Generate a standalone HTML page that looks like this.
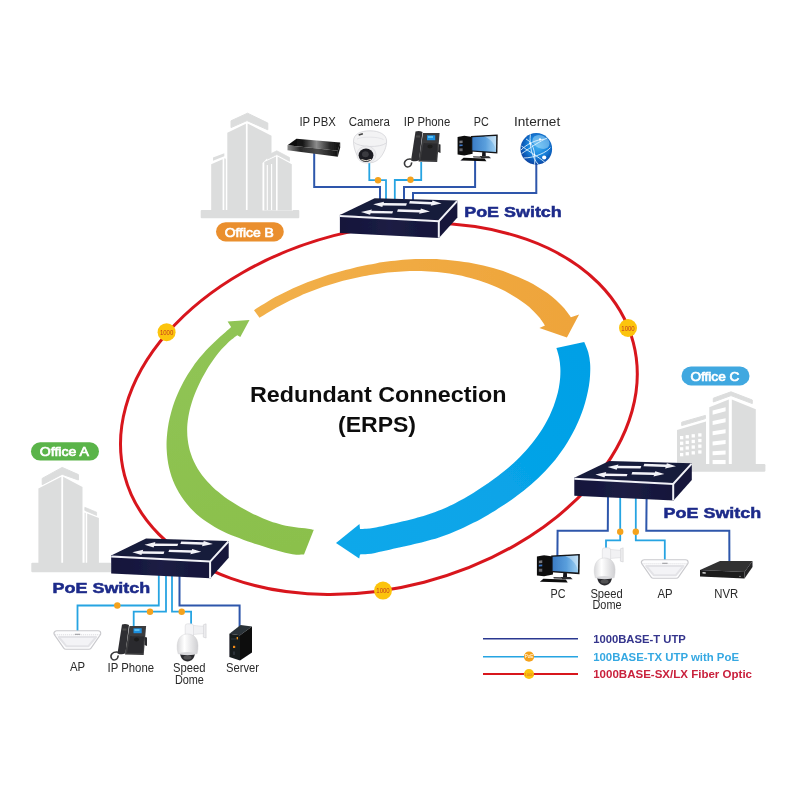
<!DOCTYPE html>
<html><head><meta charset="utf-8"><title>ERPS Ring</title>
<style>
html,body{margin:0;padding:0;background:#fff;}
body{width:800px;height:800px;overflow:hidden;}
svg{display:block;font-family:"Liberation Sans",sans-serif;}
</style></head><body>
<svg width="800" height="800" viewBox="0 0 800 800">
<defs>
<linearGradient id="gscreen" x1="0" y1="0" x2="1" y2="0"><stop offset="0" stop-color="#3b7cc6"/><stop offset="0.55" stop-color="#5a9fdc"/><stop offset="1" stop-color="#9fd0f2"/></linearGradient>
<radialGradient id="gglobe" cx="0.55" cy="0.42" r="0.62"><stop offset="0" stop-color="#45b0f0"/><stop offset="0.5" stop-color="#1583dc"/><stop offset="1" stop-color="#0a3c9c"/></radialGradient>
<linearGradient id="gdome" x1="0" y1="0" x2="1" y2="0"><stop offset="0" stop-color="#d9d9db"/><stop offset="0.35" stop-color="#ffffff"/><stop offset="1" stop-color="#cfcfd2"/></linearGradient>
<linearGradient id="gpbx" x1="0" y1="0" x2="1" y2="0"><stop offset="0" stop-color="#8a8a8a"/><stop offset="0.25" stop-color="#2a2a2a"/><stop offset="0.6" stop-color="#4a4a4a"/><stop offset="1" stop-color="#111"/></linearGradient>
<linearGradient id="gpbxtop" x1="0" y1="0" x2="1" y2="0"><stop offset="0" stop-color="#050505"/><stop offset="0.3" stop-color="#1a1a1a"/><stop offset="0.55" stop-color="#8c8c8c"/><stop offset="0.8" stop-color="#2a2a2a"/><stop offset="1" stop-color="#101010"/></linearGradient>
<linearGradient id="gfront" x1="0" y1="0" x2="1" y2="0"><stop offset="0" stop-color="#12143a"/><stop offset="0.5" stop-color="#1c1d44"/><stop offset="1" stop-color="#15163a"/></linearGradient>
<linearGradient id="gor" gradientUnits="userSpaceOnUse" x1="255" y1="310" x2="575" y2="320"><stop offset="0" stop-color="#f2b04a"/><stop offset="1" stop-color="#eea43a"/></linearGradient>
<linearGradient id="gbl" gradientUnits="userSpaceOnUse" x1="580" y1="350" x2="340" y2="545"><stop offset="0" stop-color="#00a0e6"/><stop offset="1" stop-color="#10a8ea"/></linearGradient>
<linearGradient id="ggr" gradientUnits="userSpaceOnUse" x1="300" y1="545" x2="245" y2="320"><stop offset="0" stop-color="#8bc04c"/><stop offset="1" stop-color="#90c455"/></linearGradient>
<filter id="soft" x="-5%" y="-5%" width="110%" height="110%"><feGaussianBlur stdDeviation="0.62"/></filter>
</defs>
<rect width="800" height="800" fill="#fff"/>
<g filter="url(#soft)">
<g><rect x="200.7" y="210" width="98.6" height="8.3" rx="1" fill="#dcdddd"/><polygon points="213.0,157.5 224.3,153.3 224.3,156.3 213.0,160.8" fill="#dcdddd"/><polygon points="211.2,164.3 222.6,159.2 222.6,210.5 211.2,210.5" fill="#dcdddd"/><polygon points="224.3,158.3 225.8,158.8 225.8,210.5 224.3,210.5" fill="#dcdddd"/><polygon points="231.0,120.8 247.5,113.2 267.8,123.0 267.8,129.8 247.0,120.6 231.0,127.6" fill="#dcdddd" stroke="#dcdddd" stroke-width="1" stroke-linejoin="round"/><polygon points="227.3,132.8 245.9,123.8 245.9,210.5 227.3,210.5" fill="#dcdddd"/><polygon points="247.6,123.4 271.5,135.8 271.5,210.5 247.6,210.5" fill="#dcdddd"/><polygon points="262.5,163.0 276.8,149.0 293.0,163.0 293.0,210.5 262.5,210.5" fill="#fff"/><polygon points="267.5,155.3 276.8,150.8 289.5,157.5 289.5,161.2 276.8,154.6 267.5,159.2" fill="#dcdddd" stroke="#dcdddd" stroke-width="0.8" stroke-linejoin="round"/><polygon points="264.3,162.0 276.0,156.6 276.0,210.5 264.3,210.5" fill="#dcdddd"/><polygon points="277.6,156.4 291.8,164.3 291.8,210.5 277.6,210.5" fill="#dcdddd"/><g stroke="#fff" stroke-width="1.1"><line x1="267.3" y1="165" x2="267.3" y2="210"/><line x1="271.6" y1="164" x2="271.6" y2="210"/></g></g>
<g><rect x="31.3" y="562.8" width="80" height="9.4" rx="1" fill="#dcdddd"/><polygon points="42.2,478.4 62.2,467.4 78.4,474.6 78.4,480.0 62.2,474.3 42.2,484.7" fill="#dcdddd" stroke="#dcdddd" stroke-width="1" stroke-linejoin="round"/><polygon points="38.4,488.6 61.3,476.8 61.3,563.5 38.4,563.5" fill="#dcdddd"/><polygon points="63.1,476.8 82.5,487.0 82.5,563.5 63.1,563.5" fill="#dcdddd"/><polygon points="84.8,507.3 96.6,512.2 96.6,515.4 84.8,510.4" fill="#dcdddd" stroke="#dcdddd" stroke-width="0.8" stroke-linejoin="round"/><polygon points="84.6,512.6 85.7,513.0 85.7,563.5 84.6,563.5" fill="#dcdddd"/><polygon points="87.2,513.6 98.9,518.0 98.9,563.5 87.2,563.5" fill="#dcdddd"/></g>
<g><rect x="676" y="464" width="89.4" height="7.8" rx="1.2" fill="#dcdddd"/><polygon points="681.7,422.2 705.4,415.4 705.4,418.6 681.7,425.6" fill="#dcdddd" stroke="#dcdddd" stroke-width="1" stroke-linejoin="round"/><polygon points="677.0,430.0 706.0,421.6 706.0,464.5 677.0,464.5" fill="#dcdddd"/><polygon points="713.3,398.2 731.0,391.8 752.3,400.0 752.3,403.6 731.0,395.6 713.3,402.0" fill="#dcdddd" stroke="#dcdddd" stroke-width="1" stroke-linejoin="round"/><polygon points="709.3,407.2 728.8,399.6 728.8,464.5 709.3,464.5" fill="#dcdddd"/><polygon points="731.8,399.4 755.8,409.2 755.8,464.5 731.8,464.5" fill="#dcdddd"/><g fill="#fff"><polygon points="712.6,410.6 725.6,407.2 725.6,411.3 712.6,414.7" fill="#fff"/><polygon points="712.6,420.9 725.6,418.2 725.6,422.3 712.6,425.0" fill="#fff"/><polygon points="712.6,431.2 725.6,429.2 725.6,433.3 712.6,435.3" fill="#fff"/><polygon points="712.6,441.4 725.6,440.0 725.6,444.1 712.6,445.5" fill="#fff"/><polygon points="712.6,451.2 725.6,450.4 725.6,454.5 712.6,455.3" fill="#fff"/><polygon points="712.6,460.0 725.6,460.0 725.6,464.1 712.6,464.1" fill="#fff"/><rect x="680.0" y="436.0" width="3.3" height="3.3"/><rect x="685.6" y="435.1" width="3.3" height="3.3"/><rect x="691.6" y="434.2" width="3.3" height="3.3"/><rect x="698.2" y="433.3" width="3.3" height="3.3"/><rect x="680.0" y="441.6" width="3.3" height="3.3"/><rect x="685.6" y="440.7" width="3.3" height="3.3"/><rect x="691.6" y="439.8" width="3.3" height="3.3"/><rect x="698.2" y="438.9" width="3.3" height="3.3"/><rect x="680.0" y="447.2" width="3.3" height="3.3"/><rect x="685.6" y="446.3" width="3.3" height="3.3"/><rect x="691.6" y="445.4" width="3.3" height="3.3"/><rect x="698.2" y="444.5" width="3.3" height="3.3"/><rect x="680.0" y="453.0" width="3.3" height="3.3"/><rect x="685.6" y="452.1" width="3.3" height="3.3"/><rect x="691.6" y="451.2" width="3.3" height="3.3"/><rect x="698.2" y="450.3" width="3.3" height="3.3"/></g></g>
<ellipse cx="378.9" cy="408.9" rx="262.9" ry="179.1" transform="rotate(-14.62 378.9 408.9)" fill="none" stroke="#d8141f" stroke-width="3"/>
<path d="M254.0 310.3 C255.2 309.5 258.7 307.1 261.1 305.6 C263.5 304.1 265.9 302.6 268.2 301.2 C270.6 299.8 273.0 298.4 275.3 297.1 C277.7 295.8 280.1 294.6 282.5 293.4 C284.8 292.2 287.2 291.0 289.6 289.9 C291.9 288.8 294.3 287.7 296.7 286.7 C299.1 285.7 301.4 284.7 303.8 283.7 C306.1 282.8 308.5 281.9 310.9 281.0 C313.2 280.1 315.6 279.2 318.0 278.4 C320.3 277.6 322.7 276.8 325.0 276.0 C327.4 275.3 329.8 274.5 332.1 273.8 C334.5 273.1 336.9 272.4 339.2 271.7 C341.6 271.1 344.0 270.4 346.4 269.8 C348.8 269.2 351.2 268.6 353.6 268.0 C356.0 267.4 358.4 266.8 360.9 266.3 C363.3 265.8 365.8 265.3 368.2 264.8 C370.7 264.3 373.2 263.8 375.7 263.4 C378.2 262.9 380.8 262.5 383.3 262.1 C385.9 261.8 388.5 261.4 391.1 261.1 C393.7 260.8 396.3 260.5 399.0 260.2 C401.7 260.0 404.3 259.7 407.1 259.6 C409.8 259.4 412.5 259.2 415.3 259.1 C418.1 259.0 420.9 259.0 423.7 259.0 C426.6 258.9 429.5 259.0 432.4 259.1 C435.3 259.1 438.2 259.3 441.2 259.4 C444.2 259.6 447.2 259.9 450.2 260.2 C453.2 260.4 456.3 260.8 459.4 261.2 C462.5 261.6 465.7 262.1 468.8 262.6 C472.0 263.2 475.2 263.8 478.4 264.5 C481.7 265.2 484.9 265.9 488.2 266.8 C491.5 267.6 494.8 268.6 498.1 269.6 C501.4 270.6 504.8 271.7 508.1 272.9 C511.5 274.2 514.8 275.5 518.2 276.9 C521.5 278.3 524.9 279.9 528.2 281.6 C531.4 283.2 534.7 285.0 537.9 286.9 C541.1 288.9 544.3 290.9 547.4 293.1 C550.4 295.4 553.4 297.7 556.2 300.2 C559.0 302.7 561.7 305.4 564.2 308.2 C566.6 311.1 569.8 315.7 570.9 317.2 L579.1 314.4 L566.9 337.5 L539.4 328.1 L545.0 325.6 C544.1 324.3 541.5 320.2 539.4 317.6 C537.4 315.1 535.1 312.7 532.8 310.5 C530.5 308.2 528.0 306.1 525.4 304.1 C522.8 302.0 520.2 300.2 517.5 298.4 C514.8 296.6 512.0 294.9 509.2 293.4 C506.4 291.8 503.5 290.4 500.7 289.0 C497.8 287.6 495.0 286.4 492.1 285.2 C489.2 284.1 486.3 283.0 483.4 282.0 C480.6 281.0 477.7 280.1 474.8 279.2 C471.9 278.4 469.1 277.6 466.2 276.9 C463.4 276.3 460.6 275.6 457.8 275.1 C455.0 274.5 452.2 274.0 449.4 273.6 C446.7 273.2 443.9 272.8 441.2 272.5 C438.5 272.2 435.8 271.9 433.1 271.7 C430.4 271.5 427.8 271.4 425.2 271.3 C422.5 271.1 419.9 271.1 417.4 271.1 C414.8 271.0 412.2 271.1 409.7 271.1 C407.2 271.2 404.7 271.3 402.2 271.4 C399.8 271.5 397.3 271.7 394.9 271.9 C392.4 272.1 390.0 272.3 387.6 272.6 C385.3 272.9 382.9 273.1 380.5 273.5 C378.2 273.8 375.9 274.1 373.5 274.5 C371.2 274.9 368.9 275.3 366.6 275.7 C364.4 276.1 362.1 276.5 359.8 277.0 C357.6 277.5 355.3 277.9 353.1 278.5 C350.8 279.0 348.6 279.5 346.4 280.1 C344.1 280.6 341.9 281.2 339.7 281.8 C337.5 282.4 335.3 283.1 333.1 283.7 C330.9 284.4 328.7 285.1 326.5 285.8 C324.3 286.5 322.1 287.3 319.9 288.0 C317.7 288.8 315.5 289.6 313.3 290.4 C311.1 291.3 308.9 292.2 306.7 293.1 C304.5 294.0 302.2 294.9 300.0 295.9 C297.8 296.9 295.6 297.9 293.4 298.9 C291.2 300.0 288.9 301.0 286.7 302.2 C284.5 303.3 282.2 304.5 280.0 305.7 C277.7 306.9 275.5 308.1 273.2 309.4 C270.9 310.7 268.7 312.1 266.4 313.4 C264.1 314.8 260.6 317.0 259.5 317.7 Z" fill="url(#gor)"/>
<path d="M584.2 341.9 C584.9 343.6 587.3 348.8 588.3 352.4 C589.3 356.0 589.8 359.7 590.1 363.5 C590.4 367.2 590.3 371.0 590.1 374.8 C590.0 378.5 589.5 382.3 588.9 386.0 C588.3 389.7 587.5 393.4 586.6 397.1 C585.7 400.7 584.7 404.3 583.5 407.9 C582.3 411.4 581.0 414.9 579.7 418.3 C578.3 421.7 576.8 425.0 575.2 428.3 C573.6 431.5 571.9 434.7 570.1 437.8 C568.3 440.9 566.4 444.0 564.5 446.9 C562.5 449.8 560.5 452.7 558.4 455.4 C556.4 458.2 554.2 460.9 552.0 463.5 C549.8 466.1 547.6 468.6 545.3 471.0 C543.0 473.4 540.6 475.7 538.3 478.0 C535.9 480.2 533.5 482.4 531.1 484.5 C528.7 486.6 526.3 488.6 523.9 490.5 C521.5 492.4 519.0 494.3 516.6 496.1 C514.2 497.9 511.8 499.6 509.4 501.3 C506.9 503.0 504.5 504.6 502.1 506.1 C499.7 507.7 497.4 509.2 495.0 510.7 C492.6 512.1 490.2 513.5 487.9 514.9 C485.5 516.3 483.2 517.6 480.9 518.9 C478.5 520.2 476.2 521.4 473.9 522.6 C471.5 523.8 469.2 525.0 466.9 526.1 C464.6 527.2 462.3 528.3 460.0 529.3 C457.6 530.4 455.3 531.4 453.0 532.3 C450.7 533.3 448.3 534.2 446.0 535.0 C443.7 535.9 441.3 536.7 439.0 537.4 C436.7 538.2 434.3 538.9 432.0 539.6 C429.6 540.3 427.3 541.0 425.0 541.6 C422.6 542.2 420.3 542.8 417.9 543.3 C415.6 543.9 413.2 544.4 410.9 545.0 C408.6 545.5 406.2 546.0 403.9 546.5 C401.5 547.1 399.2 547.6 396.8 548.1 C394.4 548.6 392.1 549.2 389.7 549.7 C387.3 550.3 384.9 550.8 382.5 551.3 C380.0 551.9 377.6 552.4 375.1 552.9 C372.6 553.3 370.1 553.8 367.6 554.1 C365.1 554.3 361.3 554.4 360.0 554.5 L359.2 558.5 L336.0 543.0 L359.5 524.0 L360.0 529.0 C361.1 529.0 364.3 529.0 366.4 528.8 C368.6 528.6 370.7 528.3 372.8 527.9 C374.9 527.6 377.0 527.2 379.0 526.7 C381.1 526.3 383.1 525.9 385.1 525.4 C387.2 525.0 389.2 524.5 391.1 524.0 C393.1 523.6 395.1 523.1 397.1 522.7 C399.1 522.2 401.0 521.8 403.0 521.3 C404.9 520.9 406.9 520.4 408.9 519.9 C410.8 519.4 412.8 518.9 414.7 518.4 C416.7 517.9 418.7 517.4 420.6 516.8 C422.6 516.2 424.5 515.7 426.5 515.0 C428.4 514.4 430.4 513.7 432.4 513.0 C434.3 512.3 436.3 511.6 438.2 510.8 C440.2 510.1 442.1 509.3 444.1 508.4 C446.0 507.6 447.9 506.7 449.9 505.7 C451.8 504.8 453.8 503.9 455.7 502.9 C457.7 501.9 459.6 500.8 461.6 499.8 C463.5 498.7 465.5 497.6 467.4 496.4 C469.4 495.3 471.4 494.1 473.3 492.9 C475.3 491.7 477.3 490.4 479.3 489.1 C481.3 487.8 483.4 486.5 485.4 485.1 C487.4 483.7 489.5 482.3 491.5 480.8 C493.6 479.3 495.7 477.8 497.7 476.2 C499.8 474.6 501.9 473.0 504.0 471.3 C506.1 469.6 508.2 467.8 510.3 465.9 C512.4 464.1 514.5 462.2 516.6 460.2 C518.6 458.2 520.7 456.1 522.7 454.0 C524.8 451.8 526.8 449.6 528.8 447.3 C530.7 445.0 532.7 442.6 534.6 440.1 C536.5 437.7 538.3 435.1 540.0 432.5 C541.8 429.8 543.5 427.1 545.1 424.3 C546.7 421.5 548.2 418.6 549.6 415.7 C551.0 412.7 552.3 409.7 553.5 406.6 C554.6 403.5 555.7 400.3 556.6 397.1 C557.5 393.9 558.3 390.7 558.9 387.4 C559.5 384.1 559.9 380.8 560.2 377.5 C560.4 374.2 560.5 370.8 560.3 367.5 C560.1 364.2 559.8 360.9 559.1 357.6 C558.5 354.4 556.9 349.7 556.4 348.1 Z" fill="url(#gbl)"/>
<path d="M304.0 554.5 C302.7 554.5 298.7 554.8 296.2 554.7 C293.6 554.5 291.2 554.1 288.8 553.6 C286.3 553.1 283.9 552.4 281.5 551.8 C279.1 551.1 276.7 550.4 274.2 549.7 C271.8 548.9 269.3 548.2 266.8 547.4 C264.3 546.6 261.8 545.8 259.2 545.0 C256.6 544.2 254.0 543.3 251.3 542.4 C248.7 541.6 245.9 540.7 243.2 539.7 C240.5 538.7 237.8 537.7 235.0 536.6 C232.3 535.5 229.5 534.4 226.8 533.2 C224.1 531.9 221.3 530.6 218.7 529.2 C216.0 527.8 213.3 526.3 210.8 524.6 C208.2 523.0 205.6 521.3 203.2 519.5 C200.8 517.7 198.4 515.7 196.1 513.7 C193.9 511.7 191.7 509.5 189.7 507.3 C187.7 505.1 185.7 502.7 184.0 500.3 C182.2 497.9 180.5 495.4 179.0 492.8 C177.5 490.2 176.1 487.6 174.8 484.8 C173.6 482.1 172.5 479.3 171.5 476.5 C170.6 473.7 169.8 470.8 169.1 467.9 C168.4 465.0 167.9 462.0 167.5 459.0 C167.1 456.1 166.8 453.1 166.7 450.1 C166.5 447.1 166.5 444.1 166.6 441.1 C166.7 438.1 167.0 435.1 167.3 432.2 C167.6 429.2 168.1 426.2 168.6 423.3 C169.2 420.4 169.8 417.5 170.6 414.6 C171.3 411.7 172.1 408.9 173.0 406.1 C173.9 403.3 175.0 400.5 176.0 397.8 C177.1 395.0 178.3 392.4 179.5 389.7 C180.7 387.1 182.0 384.5 183.4 381.9 C184.8 379.4 186.2 376.9 187.7 374.5 C189.2 372.1 190.8 369.7 192.4 367.4 C194.0 365.0 195.7 362.8 197.4 360.6 C199.1 358.4 200.9 356.2 202.7 354.2 C204.5 352.1 206.4 350.1 208.3 348.1 C210.2 346.1 212.1 344.2 214.0 342.4 C215.9 340.6 217.9 338.8 219.8 337.0 C221.8 335.3 223.7 333.6 225.6 331.9 C227.5 330.2 230.2 327.7 231.1 326.9 L227.6 321.6 L249.5 319.9 L240.3 336.9 L237.3 335.2 C236.3 335.9 233.4 338.0 231.6 339.6 C229.8 341.1 228.0 342.7 226.3 344.4 C224.6 346.0 222.9 347.8 221.3 349.6 C219.8 351.4 218.2 353.2 216.8 355.1 C215.3 357.0 213.9 359.0 212.5 361.0 C211.1 363.0 209.7 365.0 208.4 367.1 C207.1 369.2 205.9 371.3 204.7 373.5 C203.4 375.7 202.2 377.9 201.1 380.1 C200.0 382.4 198.9 384.6 197.8 387.0 C196.8 389.3 195.7 391.6 194.8 394.0 C193.9 396.4 193.0 398.8 192.2 401.3 C191.4 403.7 190.7 406.2 190.0 408.8 C189.4 411.3 188.9 413.8 188.4 416.4 C188.0 418.9 187.6 421.5 187.4 424.1 C187.2 426.7 187.1 429.3 187.2 431.8 C187.2 434.4 187.4 437.0 187.7 439.6 C188.0 442.1 188.4 444.7 189.0 447.2 C189.5 449.7 190.3 452.2 191.1 454.6 C191.9 457.1 192.9 459.5 194.0 461.8 C195.1 464.2 196.4 466.5 197.7 468.7 C199.1 470.9 200.5 473.1 202.1 475.2 C203.7 477.3 205.4 479.3 207.1 481.3 C208.8 483.2 210.7 485.1 212.6 486.9 C214.5 488.7 216.5 490.4 218.5 492.1 C220.5 493.8 222.5 495.4 224.6 496.9 C226.7 498.4 228.8 499.9 231.0 501.3 C233.1 502.7 235.3 504.0 237.4 505.3 C239.6 506.6 241.7 507.8 243.9 509.0 C246.0 510.2 248.2 511.3 250.3 512.4 C252.5 513.5 254.6 514.6 256.8 515.5 C258.9 516.5 261.1 517.5 263.2 518.4 C265.3 519.3 267.5 520.1 269.6 520.9 C271.8 521.7 273.9 522.4 276.1 523.1 C278.2 523.7 280.4 524.3 282.5 524.9 C284.7 525.4 286.9 525.9 289.0 526.3 C291.2 526.7 293.4 527.0 295.5 527.3 C297.7 527.6 299.8 527.8 301.9 528.0 C304.0 528.3 306.1 528.4 308.1 528.7 C310.1 529.0 312.8 529.6 313.8 529.8 Z" fill="url(#ggr)"/>
<circle cx="166.6" cy="332.2" r="9.0" fill="#fcc40f"/><text x="166.6" y="335.0" font-size="7.6" fill="#c23a1c" text-anchor="middle" textLength="13.4" lengthAdjust="spacingAndGlyphs">1000</text>
<circle cx="628.0" cy="328.0" r="9.0" fill="#fcc40f"/><text x="628.0" y="330.8" font-size="7.6" fill="#c23a1c" text-anchor="middle" textLength="13.4" lengthAdjust="spacingAndGlyphs">1000</text>
<circle cx="383.0" cy="590.6" r="9.0" fill="#fcc40f"/><text x="383.0" y="593.4" font-size="7.6" fill="#c23a1c" text-anchor="middle" textLength="13.4" lengthAdjust="spacingAndGlyphs">1000</text>
<polyline points="314.2,152.0 314.2,187.0 380.0,187.0 380.0,199.0" fill="none" stroke="#2d57ab" stroke-width="2.0" stroke-linejoin="miter"/>
<polyline points="369.3,162.0 369.3,180.2 386.0,180.2 386.0,199.0" fill="none" stroke="#27a4e2" stroke-width="1.8" stroke-linejoin="miter"/>
<polyline points="421.2,162.0 421.2,180.0 394.8,180.0 394.8,199.0" fill="none" stroke="#27a4e2" stroke-width="1.8" stroke-linejoin="miter"/>
<polyline points="475.1,160.0 475.1,187.0 404.0,187.0 404.0,199.0" fill="none" stroke="#2d57ab" stroke-width="2.0" stroke-linejoin="miter"/>
<polyline points="536.3,164.0 536.3,193.0 413.0,193.0 413.0,200.0" fill="none" stroke="#2d57ab" stroke-width="2.0" stroke-linejoin="miter"/>
<circle cx="378.0" cy="180.3" r="3.2" fill="#f5a21c"/>
<circle cx="410.5" cy="179.8" r="3.2" fill="#f5a21c"/>
<polyline points="158.8,574.0 158.8,605.5 77.5,605.5 77.5,631.0" fill="none" stroke="#27a4e2" stroke-width="1.8" stroke-linejoin="miter"/>
<polyline points="166.0,574.0 166.0,611.7 133.7,611.7 133.7,626.0" fill="none" stroke="#27a4e2" stroke-width="1.8" stroke-linejoin="miter"/>
<polyline points="172.0,574.0 172.0,611.7 191.1,611.7 191.1,625.0" fill="none" stroke="#27a4e2" stroke-width="1.8" stroke-linejoin="miter"/>
<polyline points="179.5,574.0 179.5,605.5 239.6,605.5 239.6,627.0" fill="none" stroke="#2d57ab" stroke-width="2.0" stroke-linejoin="miter"/>
<circle cx="117.3" cy="605.5" r="3.2" fill="#f5a21c"/>
<circle cx="150.0" cy="611.7" r="3.2" fill="#f5a21c"/>
<circle cx="181.7" cy="611.7" r="3.2" fill="#f5a21c"/>
<polyline points="608.0,495.0 607.8,530.8 557.6,530.8 557.4,556.0" fill="none" stroke="#2d57ab" stroke-width="2.0" stroke-linejoin="miter"/>
<polyline points="620.2,495.0 620.2,540.4 606.0,540.4 606.0,549.0" fill="none" stroke="#27a4e2" stroke-width="1.8" stroke-linejoin="miter"/>
<polyline points="635.8,495.0 635.8,540.4 664.8,540.4 664.8,560.0" fill="none" stroke="#27a4e2" stroke-width="1.8" stroke-linejoin="miter"/>
<polyline points="646.6,495.0 646.3,530.8 729.3,530.8 729.4,562.0" fill="none" stroke="#2d57ab" stroke-width="2.0" stroke-linejoin="miter"/>
<circle cx="620.2" cy="531.8" r="3.2" fill="#f5a21c"/>
<circle cx="635.8" cy="531.8" r="3.2" fill="#f5a21c"/>
<g transform="translate(339.9 214.7)"><polygon points="0,0.4 34.8,-16.5 117.3,-14.2 99.2,5.8" fill="#181a3a"/><polygon points="0,0 99.4,5.3 99.4,23.2 0,18.3" fill="url(#gfront)"/><polygon points="99,5.6 117.5,-14.2 117.5,2.7 99,23.3 " fill="#15173a"/><polyline points="0,1.3 98.9,6.5 117.2,-13.6" fill="none" stroke="#f0f1f7" stroke-width="2" stroke-linejoin="miter"/><line x1="98.9" y1="6" x2="98.9" y2="23" stroke="#f0f1f7" stroke-width="2"/><polygon points="66.2,-9.0 42.9,-9.1 42.4,-7.7 33.3,-10.4 44.2,-13.0 43.7,-11.6 67.0,-11.4" fill="#f2f3f8"/><polygon points="69.2,-11.2 91.3,-10.3 90.8,-8.9 101.7,-11.2 92.6,-14.2 92.1,-12.8 70.0,-13.6" fill="#f2f3f8"/><polygon points="52.4,-1.1 30.7,-1.4 30.2,0.0 21.1,-2.8 32.0,-5.3 31.5,-3.9 53.2,-3.5" fill="#f2f3f8"/><polygon points="57.2,-3.0 79.7,-2.3 79.2,-0.9 90.1,-3.3 81.0,-6.2 80.5,-4.8 58.0,-5.4" fill="#f2f3f8"/></g>
<g transform="translate(111.2 555.1)"><polygon points="0,0.4 34.8,-16.5 117.3,-14.2 99.2,5.8" fill="#181a3a"/><polygon points="0,0 99.4,5.3 99.4,23.2 0,18.3" fill="url(#gfront)"/><polygon points="99,5.6 117.5,-14.2 117.5,2.7 99,23.3 " fill="#15173a"/><polyline points="0,1.3 98.9,6.5 117.2,-13.6" fill="none" stroke="#f0f1f7" stroke-width="2" stroke-linejoin="miter"/><line x1="98.9" y1="6" x2="98.9" y2="23" stroke="#f0f1f7" stroke-width="2"/><polygon points="66.2,-9.0 42.9,-9.1 42.4,-7.7 33.3,-10.4 44.2,-13.0 43.7,-11.6 67.0,-11.4" fill="#f2f3f8"/><polygon points="69.2,-11.2 91.3,-10.3 90.8,-8.9 101.7,-11.2 92.6,-14.2 92.1,-12.8 70.0,-13.6" fill="#f2f3f8"/><polygon points="52.4,-1.1 30.7,-1.4 30.2,0.0 21.1,-2.8 32.0,-5.3 31.5,-3.9 53.2,-3.5" fill="#f2f3f8"/><polygon points="57.2,-3.0 79.7,-2.3 79.2,-0.9 90.1,-3.3 81.0,-6.2 80.5,-4.8 58.0,-5.4" fill="#f2f3f8"/></g>
<g transform="translate(574.3 477.4)"><polygon points="0,0.4 34.8,-16.5 117.3,-14.2 99.2,5.8" fill="#181a3a"/><polygon points="0,0 99.4,5.3 99.4,23.2 0,18.3" fill="url(#gfront)"/><polygon points="99,5.6 117.5,-14.2 117.5,2.7 99,23.3 " fill="#15173a"/><polyline points="0,1.3 98.9,6.5 117.2,-13.6" fill="none" stroke="#f0f1f7" stroke-width="2" stroke-linejoin="miter"/><line x1="98.9" y1="6" x2="98.9" y2="23" stroke="#f0f1f7" stroke-width="2"/><polygon points="66.2,-9.0 42.9,-9.1 42.4,-7.7 33.3,-10.4 44.2,-13.0 43.7,-11.6 67.0,-11.4" fill="#f2f3f8"/><polygon points="69.2,-11.2 91.3,-10.3 90.8,-8.9 101.7,-11.2 92.6,-14.2 92.1,-12.8 70.0,-13.6" fill="#f2f3f8"/><polygon points="52.4,-1.1 30.7,-1.4 30.2,0.0 21.1,-2.8 32.0,-5.3 31.5,-3.9 53.2,-3.5" fill="#f2f3f8"/><polygon points="57.2,-3.0 79.7,-2.3 79.2,-0.9 90.1,-3.3 81.0,-6.2 80.5,-4.8 58.0,-5.4" fill="#f2f3f8"/></g>
<text x="464.2" y="216.8" font-size="15.3" fill="#1d2b8a" text-anchor="start" font-weight="bold" stroke="#1d2b8a" stroke-width="0.5" textLength="97.6" lengthAdjust="spacingAndGlyphs">PoE Switch</text>
<text x="52.6" y="593.4" font-size="15.3" fill="#1d2b8a" text-anchor="start" font-weight="bold" stroke="#1d2b8a" stroke-width="0.5" textLength="97.6" lengthAdjust="spacingAndGlyphs">PoE Switch</text>
<text x="663.6" y="518.4" font-size="15.3" fill="#1d2b8a" text-anchor="start" font-weight="bold" stroke="#1d2b8a" stroke-width="0.5" textLength="97.6" lengthAdjust="spacingAndGlyphs">PoE Switch</text>
<rect x="216.0" y="222.3" width="67.8" height="19.1" rx="9.6" fill="#ea8f2f"/><text x="249.3" y="236.6" font-size="12.9" fill="#fff" text-anchor="middle" font-weight="normal" stroke="#fff" stroke-width="0.7" textLength="49.2" lengthAdjust="spacingAndGlyphs">Office B</text>
<rect x="31.0" y="442.2" width="68.0" height="18.4" rx="9.2" fill="#5ab448"/><text x="64.4" y="456.1" font-size="12.9" fill="#fff" text-anchor="middle" font-weight="normal" stroke="#fff" stroke-width="0.7" textLength="49.2" lengthAdjust="spacingAndGlyphs">Office A</text>
<rect x="681.5" y="366.4" width="68.0" height="19.0" rx="9.5" fill="#40a8e0"/><text x="714.9" y="380.6" font-size="12.9" fill="#fff" text-anchor="middle" font-weight="normal" stroke="#fff" stroke-width="0.7" textLength="49.0" lengthAdjust="spacingAndGlyphs">Office C</text>
<polygon points="287.5,145.2 296.5,138.7 340.2,142.6 337.8,150.8" fill="url(#gpbxtop)"/><polygon points="287.5,145.2 337.8,150.8 337.8,156.8 287.5,150.2" fill="url(#gpbx)"/><polygon points="337.8,150.8 340.2,142.6 340.2,147.6 337.8,156.8" fill="#151515"/><path d="M353.5 141 C353.5 134 361 130.8 370 130.8 C379 130.8 386.6 134.4 386.6 141 C386.6 147 384 153 380.4 157.4 C378 160.4 374 162.8 370 162.8 C364 162.8 358.6 159 356 153 C354.4 149 353.5 145 353.5 141 Z" fill="#f3f3f4" stroke="#cfcfd3" stroke-width="0.7"/><path d="M354.2 142.5 C359 147.2 380 148.2 386.2 143" fill="none" stroke="#d8d8dc" stroke-width="0.9"/><path d="M357 139 C362 136.4 378 136.4 383.6 139.6" fill="none" stroke="#dedee2" stroke-width="0.7"/><ellipse cx="366.4" cy="154.6" rx="9.6" ry="8.6" fill="#ececee" stroke="#d2d2d6" stroke-width="0.5"/><ellipse cx="366" cy="155.2" rx="7.4" ry="6.8" fill="#1c1c20"/><ellipse cx="365.4" cy="154.2" rx="3.4" ry="3" fill="#3a3a40"/><path d="M361.5 159.6 Q366 162 371 159.4" stroke="#eee6d8" stroke-width="1" fill="none"/><rect x="358.6" y="133.6" width="4.4" height="1.6" fill="#444" transform="rotate(-18 360.8 134.4)"/><g transform="translate(0.0 0.0)"><polygon points="423.0,133.0 439.6,133.0 437.2,162.0 418.5,161.6" fill="#3b3b3e"/><polygon points="438.5,144.0 440.5,144.5 440.5,153.0 438.0,152.0" fill="#2c2c2e"/><polygon points="423.5,143.0 437.6,143.4 436.2,160.0 420.5,160.0" fill="#2c2c2f"/><path d="M415.5 131.5 Q419 130.2 422.5 132 L419 160.2 Q415.5 162.3 411 160.4 Z" fill="#2f2f32"/><rect x="416" y="135.5" width="4" height="2" fill="#555" opacity="0.7"/><rect x="427" y="135.3" width="8.2" height="4.9" fill="#1e8fdf"/><rect x="428" y="136" width="5" height="2" fill="#59c0f5"/><ellipse cx="430" cy="146.5" rx="2.6" ry="2" fill="#1c1c1e"/><path d="M411.5 159.2 C406 158.4 403.2 162.2 405 165.4 C407 168.4 411.8 166.6 411.6 162.4" fill="none" stroke="#38383a" stroke-width="1.5"/></g><g transform="translate(457.5 134.6) scale(1.000) translate(-457.5 -134.6)"><polygon points="457.6,137.0 464.3,135.8 472.6,137.0 472.6,153.8 464.3,155.4 457.6,154.6" fill="#0e0e10"/><polygon points="459.4,140.8 462.6,140.5 462.6,143.0 459.4,143.2" fill="#77777c"/><polygon points="459.4,144.6 462.6,144.4 462.6,146.0 459.4,146.2" fill="#3c78c8"/><polygon points="459.4,148.4 462.6,148.4 462.6,151.2 459.4,151.2" fill="#66666a"/><polygon points="471.0,136.0 497.7,134.5 497.4,153.6 471.0,151.6" fill="#121215"/><polygon points="472.3,137.2 496.2,136.0 496.0,152.0 472.3,150.4" fill="url(#gscreen)"/><path d="M484 136.6 L496.2 136 L496.1 150 C494 143 490 138.6 484 136.6 Z" fill="#fff" opacity="0.35"/><polygon points="482.3,151.8 485.6,152.0 485.8,156.2 482.0,156.2" fill="#16161a"/><polygon points="479.6,156.0 489.0,156.2 491.0,158.2 481.0,158.2" fill="#2a2a2e"/><polygon points="463.6,157.8 484.6,158.4 486.4,161.3 460.4,160.6" fill="#0c0c0e"/><polygon points="473.0,156.2 480.0,156.4 480.6,157.8 473.4,157.6" fill="#3a3a3e"/></g><circle cx="536.3" cy="148.9" r="15.8" fill="url(#gglobe)"/><ellipse cx="541" cy="142" rx="9" ry="6.4" fill="#bfe6fb" opacity="0.45" transform="rotate(25 541 142)"/><g fill="none" stroke="#e8f6ff" stroke-width="0.9" opacity="0.95"><path d="M521.4 146 C530 152 543 160 546 163.4"/><path d="M521.6 153.6 C530 148 540 141 547.6 137.8"/><path d="M530.4 134.4 C529 145 532 158 538.4 164.4"/><path d="M523.6 158 C535 158 547 152 550.4 147.6"/><path d="M526 139 C532 142 536 150 534.6 164.6"/><path d="M521 150 C527 144 536 139.6 544.4 139.2"/></g><circle cx="544.2" cy="157.5" r="2.1" fill="#fff"/><circle cx="540" cy="139.4" r="1.1" fill="#fff"/><circle cx="530.2" cy="143.6" r="1.1" fill="#fff"/><circle cx="534.4" cy="154.8" r="0.9" fill="#fff"/><g transform="translate(53.3 630.2)"><polygon points="3.4,3.2 44.8,3.2 35.6,16.4 12.6,16.4" fill="#c9c9cd" stroke="#c9c9cd" stroke-width="6.4" stroke-linejoin="round"/><polygon points="3.4,3.2 44.8,3.2 35.6,16.4 12.6,16.4" fill="#fdfdfe" stroke="#fdfdfe" stroke-width="4.2" stroke-linejoin="round"/><path d="M1.6 4.6 L46.6 4.6" stroke="#d9d9dd" stroke-width="0.9" stroke-dasharray="1.2 0.8" fill="none"/><polygon points="5.4,6.8 42.8,6.8 35.2,16 13,16" fill="#f3f3f6" stroke="#e3e3e7" stroke-width="2" stroke-linejoin="round"/><rect x="21.5" y="3.6" width="5.4" height="0.9" fill="#8c8c90"/></g><g transform="translate(-293.5 493.0)"><polygon points="423.0,133.0 439.6,133.0 437.2,162.0 418.5,161.6" fill="#3b3b3e"/><polygon points="438.5,144.0 440.5,144.5 440.5,153.0 438.0,152.0" fill="#2c2c2e"/><polygon points="423.5,143.0 437.6,143.4 436.2,160.0 420.5,160.0" fill="#2c2c2f"/><path d="M415.5 131.5 Q419 130.2 422.5 132 L419 160.2 Q415.5 162.3 411 160.4 Z" fill="#2f2f32"/><rect x="416" y="135.5" width="4" height="2" fill="#555" opacity="0.7"/><rect x="427" y="135.3" width="8.2" height="4.9" fill="#1e8fdf"/><rect x="428" y="136" width="5" height="2" fill="#59c0f5"/><ellipse cx="430" cy="146.5" rx="2.6" ry="2" fill="#1c1c1e"/><path d="M411.5 159.2 C406 158.4 403.2 162.2 405 165.4 C407 168.4 411.8 166.6 411.6 162.4" fill="none" stroke="#38383a" stroke-width="1.5"/></g><g transform="translate(-417.1 76.0)"><polygon points="620.4,548.8 623.2,547.8 623.2,562.0 620.4,561.2" fill="#ececee" stroke="#c9c9cd" stroke-width="0.5"/><polygon points="608.0,549.2 620.6,550.4 620.6,557.6 609.0,558.6" fill="#f1f1f3" stroke="#d2d2d6" stroke-width="0.5"/><path d="M602.3 550 Q602.3 547.8 604.5 547.8 L608.4 547.8 Q610.6 547.8 610.6 550 L610.6 560 L602.3 560 Z" fill="#f4f4f6" stroke="#d2d2d6" stroke-width="0.5"/><path d="M594.3 573 C593.5 563 598 558 604.5 558 C611.5 558 616 563 615 573 L614.2 577.8 L595.2 577.8 Z" fill="url(#gdome)" stroke="#cdcdd0" stroke-width="0.4"/><path d="M597.2 577.6 L612 577.6 C611.6 582.6 608.4 585.4 604.6 585.4 C600.8 585.4 597.6 582.6 597.2 577.6 Z" fill="#2a2a2e"/><ellipse cx="604.6" cy="577.6" rx="8.6" ry="1.7" fill="#d9d9dc"/><ellipse cx="604.6" cy="581.6" rx="4" ry="2" fill="#777" opacity="0.5"/></g><polygon points="229.4,633.8 240.6,625.0 252.0,626.4 240.0,635.2" fill="#2b3338"/><polygon points="229.4,633.8 240.0,635.2 240.0,660.6 229.4,656.9" fill="#141a1e"/><polygon points="240.0,635.2 252.0,626.4 252.0,652.6 240.0,660.6" fill="#0a0c0e"/><rect x="236.6" y="637" width="1.4" height="2.4" fill="#e8901c"/><rect x="233" y="645.8" width="2.2" height="2.2" fill="#f08a18"/><rect x="233" y="651.5" width="2" height="3.4" fill="#2c3238"/><rect x="231" y="638" width="5" height="2" fill="#242a2e"/><g transform="translate(536.8 554.0) scale(1.070) translate(-457.5 -134.6)"><polygon points="457.6,137.0 464.3,135.8 472.6,137.0 472.6,153.8 464.3,155.4 457.6,154.6" fill="#0e0e10"/><polygon points="459.4,140.8 462.6,140.5 462.6,143.0 459.4,143.2" fill="#77777c"/><polygon points="459.4,144.6 462.6,144.4 462.6,146.0 459.4,146.2" fill="#3c78c8"/><polygon points="459.4,148.4 462.6,148.4 462.6,151.2 459.4,151.2" fill="#66666a"/><polygon points="471.0,136.0 497.7,134.5 497.4,153.6 471.0,151.6" fill="#121215"/><polygon points="472.3,137.2 496.2,136.0 496.0,152.0 472.3,150.4" fill="url(#gscreen)"/><path d="M484 136.6 L496.2 136 L496.1 150 C494 143 490 138.6 484 136.6 Z" fill="#fff" opacity="0.35"/><polygon points="482.3,151.8 485.6,152.0 485.8,156.2 482.0,156.2" fill="#16161a"/><polygon points="479.6,156.0 489.0,156.2 491.0,158.2 481.0,158.2" fill="#2a2a2e"/><polygon points="463.6,157.8 484.6,158.4 486.4,161.3 460.4,160.6" fill="#0c0c0e"/><polygon points="473.0,156.2 480.0,156.4 480.6,157.8 473.4,157.6" fill="#3a3a3e"/></g><g transform="translate(0.0 0.0)"><polygon points="620.4,548.8 623.2,547.8 623.2,562.0 620.4,561.2" fill="#ececee" stroke="#c9c9cd" stroke-width="0.5"/><polygon points="608.0,549.2 620.6,550.4 620.6,557.6 609.0,558.6" fill="#f1f1f3" stroke="#d2d2d6" stroke-width="0.5"/><path d="M602.3 550 Q602.3 547.8 604.5 547.8 L608.4 547.8 Q610.6 547.8 610.6 550 L610.6 560 L602.3 560 Z" fill="#f4f4f6" stroke="#d2d2d6" stroke-width="0.5"/><path d="M594.3 573 C593.5 563 598 558 604.5 558 C611.5 558 616 563 615 573 L614.2 577.8 L595.2 577.8 Z" fill="url(#gdome)" stroke="#cdcdd0" stroke-width="0.4"/><path d="M597.2 577.6 L612 577.6 C611.6 582.6 608.4 585.4 604.6 585.4 C600.8 585.4 597.6 582.6 597.2 577.6 Z" fill="#2a2a2e"/><ellipse cx="604.6" cy="577.6" rx="8.6" ry="1.7" fill="#d9d9dc"/><ellipse cx="604.6" cy="581.6" rx="4" ry="2" fill="#777" opacity="0.5"/></g><g transform="translate(640.7 559.2)"><polygon points="3.4,3.2 44.8,3.2 35.6,16.4 12.6,16.4" fill="#c9c9cd" stroke="#c9c9cd" stroke-width="6.4" stroke-linejoin="round"/><polygon points="3.4,3.2 44.8,3.2 35.6,16.4 12.6,16.4" fill="#fdfdfe" stroke="#fdfdfe" stroke-width="4.2" stroke-linejoin="round"/><path d="M1.6 4.6 L46.6 4.6" stroke="#d9d9dd" stroke-width="0.9" stroke-dasharray="1.2 0.8" fill="none"/><polygon points="5.4,6.8 42.8,6.8 35.2,16 13,16" fill="#f3f3f6" stroke="#e3e3e7" stroke-width="2" stroke-linejoin="round"/><rect x="21.5" y="3.6" width="5.4" height="0.9" fill="#8c8c90"/></g><polygon points="700.0,570.0 720.0,561.0 752.5,561.0 744.5,572.0" fill="#303032"/><polygon points="700.0,570.0 744.5,572.0 744.5,578.6 700.0,576.5" fill="#1b1b1d"/><polygon points="744.5,572.0 752.5,561.0 752.5,567.0 744.5,578.6" fill="#262628"/><rect x="702.5" y="572" width="3.2" height="1.6" fill="#d8d8d8" transform="skewY(2.5)" transform-origin="702 572"/><circle cx="740" cy="576.4" r="0.7" fill="#aaa"/>
<text x="317.6" y="125.8" font-size="12.0" fill="#2a2a2a" text-anchor="middle" font-weight="normal" textLength="36.4" lengthAdjust="spacingAndGlyphs">IP PBX</text>
<text x="369.3" y="125.8" font-size="12.0" fill="#2a2a2a" text-anchor="middle" font-weight="normal" textLength="41.0" lengthAdjust="spacingAndGlyphs">Camera</text>
<text x="427.0" y="125.8" font-size="12.0" fill="#2a2a2a" text-anchor="middle" font-weight="normal" textLength="46.5" lengthAdjust="spacingAndGlyphs">IP Phone</text>
<text x="481.3" y="125.8" font-size="12.0" fill="#2a2a2a" text-anchor="middle" font-weight="normal" textLength="15.0" lengthAdjust="spacingAndGlyphs">PC</text>
<text x="537.1" y="125.8" font-size="12.0" fill="#2a2a2a" text-anchor="middle" font-weight="normal" textLength="46.2" lengthAdjust="spacingAndGlyphs">Internet</text>
<text transform="translate(77.5 671.4) scale(0.945 1)" font-size="12.0" fill="#2a2a2a" text-anchor="middle" font-weight="normal">AP</text>
<text x="130.8" y="671.6" font-size="12.0" fill="#2a2a2a" text-anchor="middle" font-weight="normal" textLength="46.5" lengthAdjust="spacingAndGlyphs">IP Phone</text>
<text x="189.3" y="671.8" font-size="12.0" fill="#2a2a2a" text-anchor="middle" font-weight="normal" textLength="32.4" lengthAdjust="spacingAndGlyphs">Speed</text>
<text x="189.4" y="684.0" font-size="12.0" fill="#2a2a2a" text-anchor="middle" font-weight="normal" textLength="29.0" lengthAdjust="spacingAndGlyphs">Dome</text>
<text x="242.5" y="671.6" font-size="12.0" fill="#2a2a2a" text-anchor="middle" font-weight="normal" textLength="33.0" lengthAdjust="spacingAndGlyphs">Server</text>
<text x="558.0" y="597.8" font-size="12.0" fill="#2a2a2a" text-anchor="middle" font-weight="normal" textLength="15.0" lengthAdjust="spacingAndGlyphs">PC</text>
<text x="606.6" y="597.6" font-size="12.0" fill="#2a2a2a" text-anchor="middle" font-weight="normal" textLength="32.4" lengthAdjust="spacingAndGlyphs">Speed</text>
<text x="607.0" y="608.8" font-size="12.0" fill="#2a2a2a" text-anchor="middle" font-weight="normal" textLength="29.0" lengthAdjust="spacingAndGlyphs">Dome</text>
<text transform="translate(665.1 597.6) scale(0.945 1)" font-size="12.0" fill="#2a2a2a" text-anchor="middle" font-weight="normal">AP</text>
<text transform="translate(726.2 597.9) scale(0.945 1)" font-size="12.0" fill="#2a2a2a" text-anchor="middle" font-weight="normal">NVR</text>
<text x="378.2" y="401.6" font-size="22.6" fill="#111" text-anchor="middle" font-weight="bold" textLength="256.5" lengthAdjust="spacingAndGlyphs">Redundant Connection</text>
<text x="377.0" y="432.2" font-size="22.6" fill="#111" text-anchor="middle" font-weight="bold" textLength="78.0" lengthAdjust="spacingAndGlyphs">(ERPS)</text>
<polyline points="483.0,638.7 578.0,638.7" fill="none" stroke="#2b3990" stroke-width="1.6" stroke-linejoin="miter"/>
<polyline points="483.0,656.7 578.0,656.7" fill="none" stroke="#27a4e2" stroke-width="1.6" stroke-linejoin="miter"/>
<polyline points="483.0,674.0 578.0,674.0" fill="none" stroke="#d8141f" stroke-width="1.8" stroke-linejoin="miter"/>
<circle cx="529" cy="656.7" r="5.1" fill="#f5a21c"/><text x="529" y="658.4" font-size="4.6" fill="#fff" text-anchor="middle">PoE</text>
<circle cx="529" cy="674" r="5.1" fill="#fcc40f"/><text x="529" y="675.6" font-size="4.2" fill="#e07020" text-anchor="middle">1000</text>
<text x="593.2" y="643.4" font-size="10.9" fill="#34348c" text-anchor="start" font-weight="bold" textLength="92.6" lengthAdjust="spacingAndGlyphs">1000BASE-T UTP</text>
<text x="593.2" y="660.7" font-size="10.9" fill="#35a8e2" text-anchor="start" font-weight="bold" textLength="145.8" lengthAdjust="spacingAndGlyphs">100BASE-TX UTP with PoE</text>
<text x="593.2" y="677.6" font-size="10.9" fill="#c9203c" text-anchor="start" font-weight="bold" textLength="158.8" lengthAdjust="spacingAndGlyphs">1000BASE-SX/LX Fiber Optic</text>
</g>
</svg>
</body></html>
